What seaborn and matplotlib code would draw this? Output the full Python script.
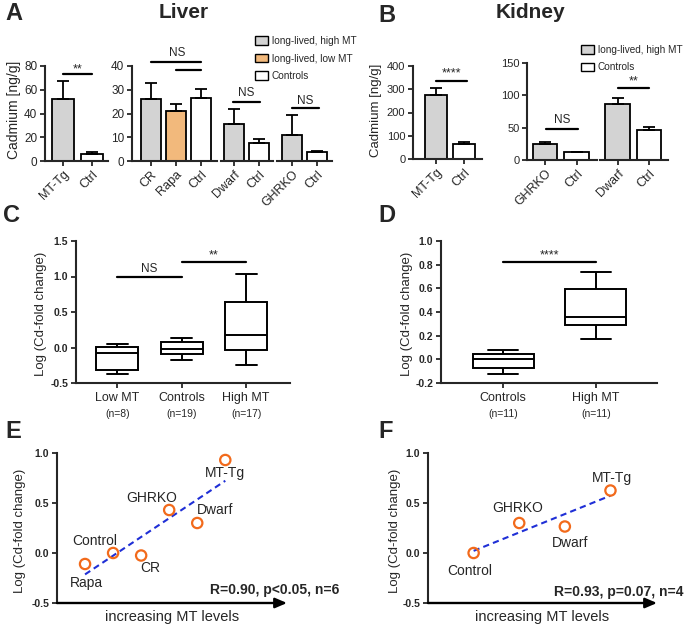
import numpy as np
import pandas as pd
import matplotlib
matplotlib.use('Agg')
import matplotlib.pyplot as plt
from matplotlib.patches import Patch
import seaborn as sns

# ---------------- data ----------------
# A: liver cadmium [ng/g] (mean, upper error)
liver_mttg_cats = ['MT-Tg', 'Ctrl']
liver_mttg_vals = [52.5, 6.0]
liver_mttg_err = [14.5, 1.4]
liver_cr_cats = ['CR', 'Rapa', 'Ctrl']
liver_cr_vals = [26.0, 21.0, 26.7]
liver_cr_err = [7.0, 2.9, 3.7]
liver_dwarf_cats = ['Dwarf', 'Ctrl']
liver_dwarf_vals = [15.6, 7.6]
liver_dwarf_err = [6.3, 1.7]
liver_ghrko_cats = ['GHRKO', 'Ctrl']
liver_ghrko_vals = [11.0, 3.8]
liver_ghrko_err = [8.4, 0.4]

# B: kidney cadmium [ng/g]
kidney_mttg_cats = ['MT-Tg', 'Ctrl']
kidney_mttg_vals = [277, 65]
kidney_mttg_err = [30, 10]
kidney_ghrko_cats = ['GHRKO', 'Ctrl']
kidney_ghrko_vals = [25.3, 12.4]
kidney_ghrko_err = [2.1, 0]
kidney_dwarf_cats = ['Dwarf', 'Ctrl']
kidney_dwarf_vals = [86, 46]
kidney_dwarf_err = [9.5, 5]

# C / D: five-number summaries (min, q1, median, q3, max)
liver_groups = ['Low MT', 'Controls', 'High MT']
liver_n = [8, 19, 17]
liver_low = [-0.38, -0.31, -0.075, 0.005, 0.047]
liver_ctrl = [-0.17, -0.098, -0.019, 0.084, 0.14]
liver_high = [-0.24, -0.037, 0.18, 0.646, 1.03]
kidney_groups = ['Controls', 'High MT']
kidney_n = [11, 11]
kidney_ctrl = [-0.126, -0.076, 0.0, 0.048, 0.079]
kidney_high = [0.169, 0.292, 0.357, 0.598, 0.739]

# E / F: log fold change vs MT rank
liver_models = ['Rapa', 'Control', 'CR', 'GHRKO', 'Dwarf', 'MT-Tg']
liver_rank = [1, 2, 3, 4, 5, 6]
liver_logfc = [-0.11, 0.0, -0.025, 0.43, 0.30, 0.93]
kidney_models = ['Control', 'GHRKO', 'Dwarf', 'MT-Tg']
kidney_rank = [1, 2, 3, 4]
kidney_logfc = [0.0, 0.30, 0.265, 0.625]

GREY = '#d3d3d3'
ORANGE = '#f2b97c'
WHITE = '#ffffff'
PT_ORANGE = '#f26a1b'
LINE_BLUE = '#1f2fd6'

sns.set_style('ticks')
plt.rcParams['font.family'] = ['Liberation Sans', 'DejaVu Sans']
plt.rcParams['axes.linewidth'] = 1.5

W, H = 684, 625
fig = plt.figure(figsize=(W / 100, H / 100), dpi=100)


def add_ax(x0, y0, x1, y1):
    return fig.add_axes([x0 / W, 1 - y1 / H, (x1 - x0) / W, (y1 - y0) / H])


def ftext(x, y, s, **kw):
    fig.text(x / W, 1 - y / H, s, ha='center', va='center', **kw)


def style(ax, show_y=True, ysize=8.5):
    sns.despine(ax=ax)
    ax.tick_params(direction='out', length=3.5, width=1.3, labelsize=ysize, pad=2)
    if not show_y:
        ax.spines['left'].set_visible(False)
        ax.tick_params(left=False, labelleft=False)


def bars(ax, cats, vals, errs, cols, xlim, ylim, yticks=None, ysize=8.5):
    sns.barplot(x=cats, y=vals, hue=cats, palette=dict(zip(cats, cols)), legend=False,
                width=0.78, edgecolor='black', linewidth=1.3, saturation=1, ax=ax)
    ax.errorbar(range(len(vals)), vals, yerr=[np.zeros(len(errs)), errs], fmt='none',
                ecolor='black', elinewidth=1.3, capsize=4, capthick=1.3)
    ax.set_xlim(*xlim)
    ax.set_ylim(*ylim)
    ax.set_xlabel('')
    ax.set_ylabel('')
    style(ax, yticks is not None, ysize)
    if yticks is not None:
        ax.set_yticks(yticks)
    ax.set_xticks(range(len(cats)))
    ax.set_xticklabels(cats, rotation=45, ha='right', rotation_mode='anchor', fontsize=9)


def sig(ax, x0, x1, y, text, ty, fs=8.5):
    ax.plot([x0, x1], [y, y], color='black', lw=1.6, clip_on=False)
    ax.text((x0 + x1) / 2, ty, text, ha='center', va='center', fontsize=fs, clip_on=False)


# ---------------- A: liver bars ----------------
a1 = add_ax(45, 66, 108, 161)
bars(a1, liver_mttg_cats, liver_mttg_vals, liver_mttg_err, [GREY, WHITE],
     (-0.62, 1.55), (0, 80), [0, 20, 40, 60, 80])
sig(a1, 0, 1, 73.2, '**', 77, 9)

a2 = add_ax(132, 66, 217, 161)
bars(a2, liver_cr_cats, liver_cr_vals, liver_cr_err, [GREY, ORANGE, WHITE],
     (-0.76, 2.64), (0, 40), [0, 10, 20, 30, 40])
sig(a2, 0, 2, 41.8, '', 0)
sig(a2, 1, 2, 38.3, '', 0)
a2.text(1.04, 45.5, 'NS', ha='center', va='center', fontsize=8.5, clip_on=False)

a3 = add_ax(221, 66, 273, 161)
bars(a3, liver_dwarf_cats, liver_dwarf_vals, liver_dwarf_err, [GREY, WHITE],
     (-0.52, 1.56), (0, 40))
sig(a3, -0.04, 1.04, 24.8, 'NS', 28.6)

a4 = add_ax(277, 66, 332, 161)
bars(a4, liver_ghrko_cats, liver_ghrko_vals, liver_ghrko_err, [GREY, WHITE],
     (-0.6, 1.6), (0, 40))
sig(a4, 0, 1.08, 22.3, 'NS', 25.3)

ftext(14, 110, 'Cadmium [ng/g]', rotation=90, fontsize=10)
ftext(14, 14, 'A', fontsize=17, fontweight='bold')
ftext(184, 12, 'Liver', fontsize=15, fontweight='bold')

fig.legend(handles=[Patch(facecolor=c, edgecolor='black', lw=1) for c in (GREY, ORANGE, WHITE)],
           labels=['long-lived, high MT', 'long-lived, low MT', 'Controls'],
           loc='upper left', bbox_to_anchor=(255 / W, 1 - 36 / H), frameon=False,
           fontsize=7.2, handlelength=1.3, handleheight=0.9, handletextpad=0.35,
           labelspacing=0.75, borderaxespad=0, borderpad=0)

# ---------------- B: kidney bars ----------------
b1 = add_ax(413, 66, 482, 159)
bars(b1, kidney_mttg_cats, kidney_mttg_vals, kidney_mttg_err, [GREY, WHITE],
     (-0.82, 1.64), (0, 400), [0, 100, 200, 300, 400], ysize=8)
sig(b1, 0, 1.1, 335, '****', 368, 9)

b2 = add_ax(527, 63, 597, 160)
bars(b2, kidney_ghrko_cats, kidney_ghrko_vals, kidney_ghrko_err, [GREY, WHITE],
     (-0.57, 1.65), (0, 150), [0, 50, 100, 150], ysize=8)
sig(b2, 0.03, 1.05, 48, 'NS', 62)

b3 = add_ax(600, 63, 668, 160)
bars(b3, kidney_dwarf_cats, kidney_dwarf_vals, kidney_dwarf_err, [GREY, WHITE],
     (-0.56, 1.6), (0, 150))
sig(b3, 0, 1.0, 111, '**', 122, 9)

ftext(376, 110, 'Cadmium [ng/g]', rotation=90, fontsize=9.5)
ftext(387, 16, 'B', fontsize=17, fontweight='bold')
ftext(530, 12, 'Kidney', fontsize=15, fontweight='bold')

fig.legend(handles=[Patch(facecolor=c, edgecolor='black', lw=1) for c in (GREY, WHITE)],
           labels=['long-lived, high MT', 'Controls'],
           loc='upper left', bbox_to_anchor=(581 / W, 1 - 45 / H), frameon=False,
           fontsize=7.2, handlelength=1.3, handleheight=0.9, handletextpad=0.35,
           labelspacing=0.75, borderaxespad=0, borderpad=0)


# ---------------- C / D: box plots ----------------
def boxes(ax, groups, samples, ns, xlim, ylim, yticks, width):
    df = pd.DataFrame({'group': np.repeat(groups, 5), 'value': np.concatenate(samples)})
    sns.boxplot(data=df, x='group', y='value', whis=(0, 100), width=width, color='white',
                linecolor='black', linewidth=1.4, ax=ax)
    ax.set_xlim(*xlim)
    ax.set_ylim(*ylim)
    ax.set_yticks(yticks)
    ax.set_xlabel('')
    ax.set_ylabel('')
    style(ax)
    ax.tick_params(axis='x', labelsize=9, pad=3)
    for lab in ax.get_yticklabels():
        lab.set_fontweight('bold')
        lab.set_fontsize(7.5)
    for i, n in enumerate(ns):
        ax.text(i, -0.22, f'(n={n})', transform=ax.get_xaxis_transform(),
                ha='center', va='center', fontsize=7.5)


c = add_ax(76, 241, 290, 383)
boxes(c, liver_groups, [liver_low, liver_ctrl, liver_high], liver_n,
      (-0.64, 2.68), (-0.5, 1.5), [-0.5, 0.0, 0.5, 1.0, 1.5], 0.65)
c.set_yticklabels(['-0.5', '0.0', '0.5', '1.0', '1.5'])
sig(c, 0, 1, 0.995, 'NS', 1.1)
sig(c, 1, 2, 1.2, '**', 1.29, 9)
ftext(41, 314, 'Log (Cd-fold change)', rotation=90, fontsize=9.5)
ftext(12, 216, 'C', fontsize=17, fontweight='bold')

d = add_ax(441, 241, 657, 383)
boxes(d, kidney_groups, [kidney_ctrl, kidney_high], kidney_n,
      (-0.67, 1.66), (-0.2, 1.0), [-0.2, 0.0, 0.2, 0.4, 0.6, 0.8, 1.0], 0.66)
d.set_yticklabels(['-0.2', '0.0', '0.2', '0.4', '0.6', '0.8', '1.0'])
sig(d, 0, 1, 0.82, '****', 0.88, 9)
ftext(407, 314, 'Log (Cd-fold change)', rotation=90, fontsize=9.5)
ftext(387, 216, 'D', fontsize=17, fontweight='bold')


# ---------------- E / F: correlation ----------------
def corr(ax, ranks, vals, xmax):
    sns.regplot(x=ranks, y=vals, scatter=False, ci=None, truncate=True, ax=ax,
                line_kws=dict(color=LINE_BLUE, ls=(0, (3, 2)), lw=1.5))
    sns.scatterplot(x=ranks, y=vals, s=55, facecolor='none', edgecolor=PT_ORANGE,
                    linewidth=1.6, zorder=3, ax=ax, clip_on=False)
    ax.set_xlim(0, xmax)
    ax.set_ylim(-0.5, 1.0)
    ax.set_yticks([-0.5, 0.0, 0.5, 1.0])
    ax.set_yticklabels(['-0.5', '0.0', '0.5', '1.0'])
    style(ax)
    ax.spines['bottom'].set_visible(False)
    ax.tick_params(bottom=False, labelbottom=False)
    for lab in ax.get_yticklabels():
        lab.set_fontweight('bold')
        lab.set_fontsize(7.5)
    ax.annotate('', xy=(1, 0), xytext=(0, 0), xycoords='axes fraction',
                arrowprops=dict(arrowstyle='-|>,head_length=0.7,head_width=0.3',
                                color='black', lw=1.7, shrinkA=0, shrinkB=0),
                annotation_clip=False)
    ax.set_xlabel('increasing MT levels', fontsize=10.5, labelpad=5)
    ax.set_ylabel('')


e = add_ax(57, 453, 287, 603)
corr(e, liver_rank, liver_logfc, 8.2)
e_offsets = [(0.04, -0.19), (-0.64, 0.12), (0.32, -0.125), (-0.61, 0.12), (0.64, 0.13), (0.0, -0.13)]
for r, v, name, (dx, dy) in zip(liver_rank, liver_logfc, liver_models, e_offsets):
    e.text(r + dx, v + dy, name, ha='center', va='center', fontsize=10)
e.text(10.05, -0.37, 'R=0.90, p<0.05, n=6', ha='right', va='center',
       fontsize=10, fontweight='bold', clip_on=False)
ftext(20, 531, 'Log (Cd-fold change)', rotation=90, fontsize=9.5)
ftext(13, 432, 'E', fontsize=17, fontweight='bold')

f = add_ax(428, 453, 657, 603)
corr(f, kidney_rank, kidney_logfc, 5.02)
f_offsets = [(-0.08, -0.18), (-0.03, 0.15), (0.11, -0.165), (0.03, 0.125)]
for r, v, name, (dx, dy) in zip(kidney_rank, kidney_logfc, kidney_models, f_offsets):
    f.text(r + dx, v + dy, name, ha='center', va='center', fontsize=10)
f.text(5.59, -0.39, 'R=0.93, p=0.07, n=4', ha='right', va='center',
       fontsize=10, fontweight='bold', clip_on=False)
ftext(395, 531, 'Log (Cd-fold change)', rotation=90, fontsize=9.5)
ftext(386, 431, 'F', fontsize=17, fontweight='bold')

fig.savefig('out.png', dpi=100)
